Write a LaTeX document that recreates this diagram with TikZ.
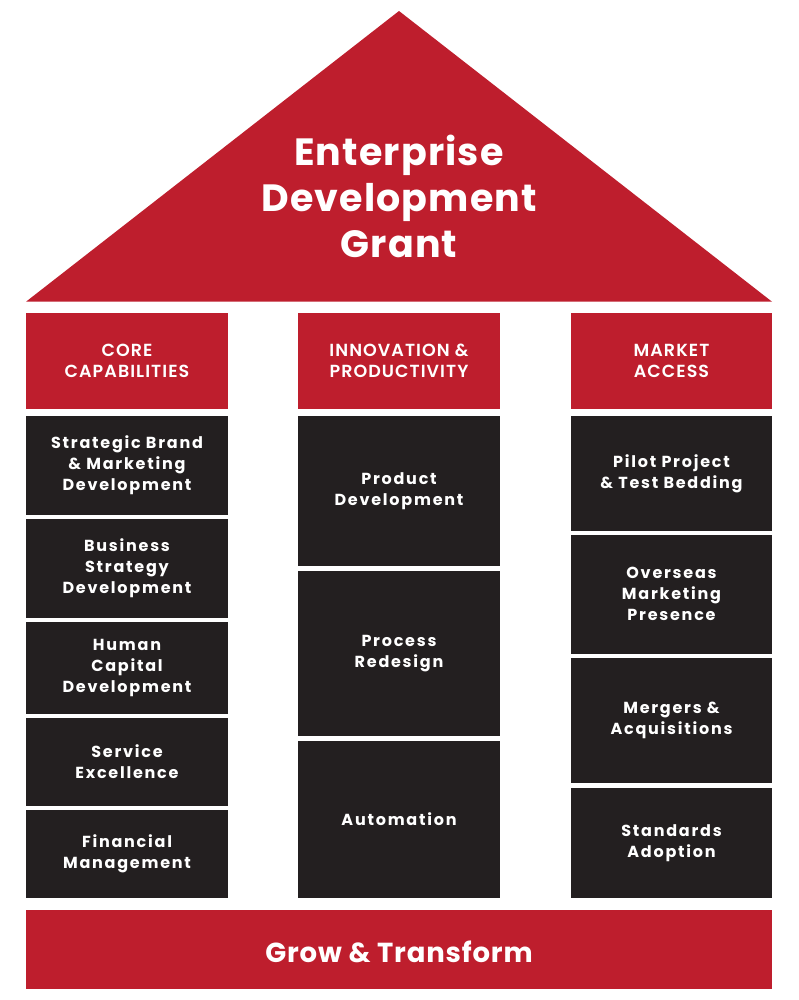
\documentclass[tikz,border=0pt]{standalone}
\usepackage{fontspec}
\setmainfont{Poppins}
\newfontfamily\boxfont[LetterSpace=11]{Poppins}
\newfontfamily\headfont[LetterSpace=6]{Poppins SemiBold}
\newfontfamily\titlefont[LetterSpace=3]{Poppins}
\definecolor{edgred}{HTML}{BE1E2D}
\definecolor{edgdark}{HTML}{231F20}
\begin{document}
\begin{tikzpicture}[x=1pt,y=-1pt,
  hdr/.style={fill=edgred,draw=none,inner sep=0pt,minimum width=202pt,minimum height=96pt,
    text=white,align=center,font=\headfont\fontsize{17.5}{21}\selectfont},
  item/.style={fill=edgdark,draw=none,inner sep=0pt,minimum width=202pt,
    text=white,align=center,font=\boxfont\bfseries\fontsize{16}{21}\selectfont},
  titletext/.style={text=white,align=center,font=\titlefont\bfseries\fontsize{38}{46}\selectfont},
  basetext/.style={text=white,font=\titlefont\bfseries\fontsize{27.5}{32}\selectfont}]
\useasboundingbox (0,0) rectangle (798,1000);
\fill[white] (0,0) rectangle (798,1000);
% roof
\coordinate (roofL) at (26,301.7);
\coordinate (apex) at (399,11);
\coordinate (roofR) at (772,301.7);
\fill[edgred] (roofL) -- (apex) -- (roofR) -- cycle;
\node[titletext] (title) at (399,196) {Enterprise\\Development\\Grant};
% headers
\node[hdr] (h1) at (127,361) {CORE\\CAPABILITIES};
\node[hdr] (h2) at (399,361) {INNOVATION \&\\PRODUCTIVITY};
\node[hdr,minimum width=201pt] (h3) at (671.5,361) {MARKET\\ACCESS};
% column 1
\node[item,minimum height=98.7pt] (c1a) at (127,465.35) {Strategic Brand\\\& Marketing\\Development};
\node[item,minimum height=99.3pt] (c1b) at (127,568.35) {Business\\Strategy\\Development};
\node[item,minimum height=92pt] (c1c) at (127,668) {Human\\Capital\\Development};
\node[item,minimum height=88pt] (c1d) at (127,762) {Service\\Excellence};
\node[item,minimum height=88pt] (c1e) at (127,854) {Financial\\Management};
% column 2
\node[item,minimum height=150pt] (c2a) at (399,491) {Product\\Development};
\node[item,minimum height=165pt] (c2b) at (399,653.5) {Process\\Redesign};
\node[item,minimum height=157pt] (c2c) at (399,819.5) {Automation};
% column 3
\node[item,minimum width=201pt,minimum height=114.7pt] (c3a) at (671.5,473.35) {Pilot Project\\\& Test Bedding};
\node[item,minimum width=201pt,minimum height=119.3pt] (c3b) at (671.5,594.35) {Overseas\\Marketing\\Presence};
\node[item,minimum width=201pt,minimum height=125pt] (c3c) at (671.5,720.5) {Mergers \&\\Acquisitions};
\node[item,minimum width=201pt,minimum height=110pt] (c3d) at (671.5,843) {Standards\\Adoption};
% base
\node[fill=edgred,inner sep=0pt,minimum width=746pt,minimum height=79pt] (base) at (399,949.5) {};
\node[basetext] (basetxt) at (399,952) {Grow \& Transform};
\end{tikzpicture}
\end{document}
